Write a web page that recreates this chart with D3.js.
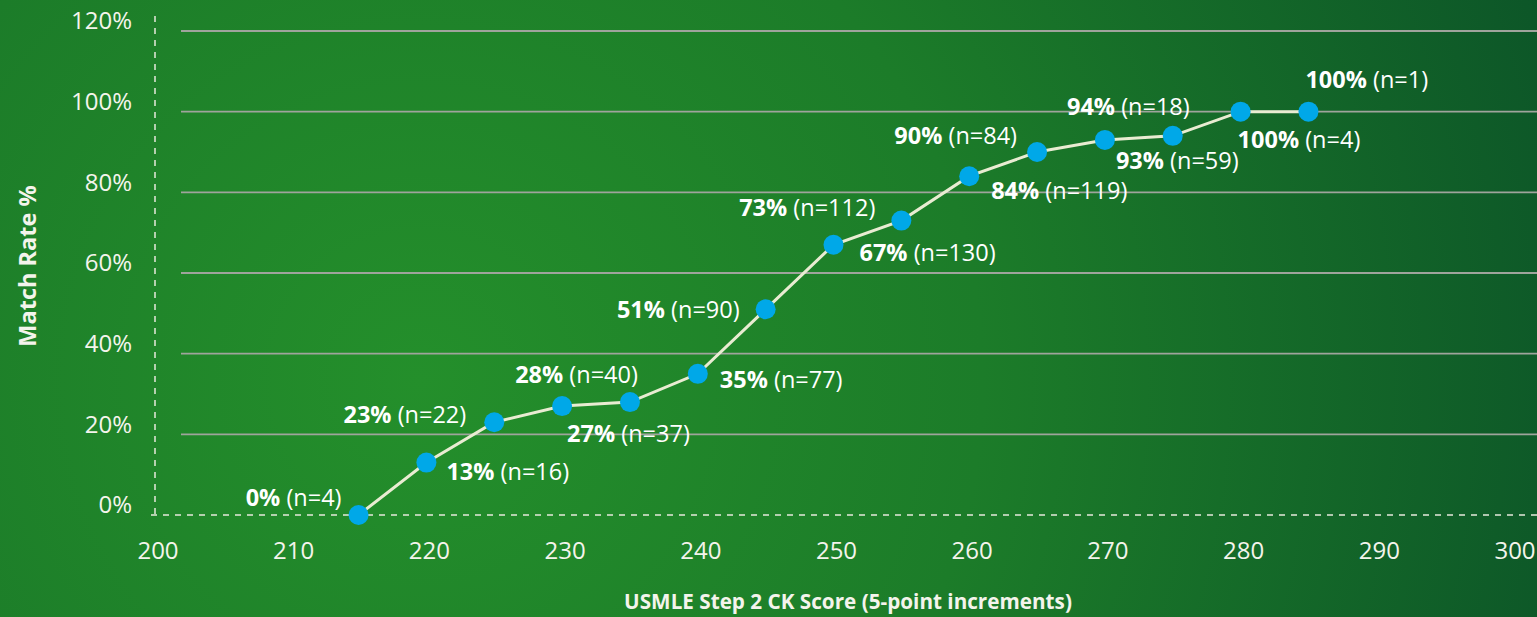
<!DOCTYPE html>
<html>
<head>
    <meta charset="utf-8">
    <title>Match Rate by USMLE Step 2 CK Score</title>
    <script src="https://d3js.org/d3.v7.min.js"></script>
    <style>
        html, body {
            margin: 0;
            padding: 0;
            overflow: hidden;
        }
        body {
            font-family: "Open Sans", Lato, sans-serif;
        }
        .tick-label {
            fill: #f4f4ec;
            font-size: 24px;
        }
        .axis-title {
            fill: #f4f4ec;
            font-size: 20.7px;
            font-weight: 700;
        }
        .y-title {
            font-size: 23.5px;
        }
        .point-label {
            fill: #ffffff;
            font-size: 23.5px;
        }
        .point-label .pct {
            font-weight: 700;
        }
    </style>
</head>
<body>
    <div id="chart"></div>

    <script>
        const width = 1537, height = 617;

        // data
        const scores = [215, 220, 225, 230, 235, 240, 245, 250, 255, 260, 265, 270, 275, 280, 285];
        const matchRates = [0, 13, 23, 27, 28, 35, 51, 67, 73, 84, 90, 93, 94, 100, 100];
        const counts = [4, 16, 22, 37, 40, 77, 90, 130, 112, 119, 84, 59, 18, 4, 1];

        const xTicks = [200, 210, 220, 230, 240, 250, 260, 270, 280, 290, 300];
        const yTicks = [0, 20, 40, 60, 80, 100, 120];

        // where each label sits relative to its point: [dx, dy, anchor]
        const labelPlacement = [
            [-17, -17, "end"], [20, 9, "start"], [-28, -7, "end"], [5, 28, "start"],
            [8, -27, "end"], [22, 6, "start"], [-26, 0, "end"], [26, 8, "start"],
            [-26, -13, "end"], [22, 15, "start"], [-20, -16, "end"], [11, 21, "start"],
            [17, -29, "end"], [-3, 28, "start"], [-3, -32, "start"]
        ];

        const data = scores.map((s, i) => ({
            score: s,
            rate: matchRates[i],
            n: counts[i],
            place: labelPlacement[i]
        }));

        const x = d3.scaleLinear().domain([200, 300]).range([155, 1512]);
        const y = d3.scaleLinear().domain([0, 120]).range([515, 31]);

        const svg = d3.select("#chart").append("svg")
            .attr("width", width)
            .attr("height", height);

        // background
        const defs = svg.append("defs");
        const grad = defs.append("radialGradient")
            .attr("id", "bg")
            .attr("gradientUnits", "userSpaceOnUse")
            .attr("cx", 420).attr("cy", 380).attr("r", 1250);
        grad.append("stop").attr("offset", "0").attr("stop-color", "#248f2b");
        grad.append("stop").attr("offset", "0.45").attr("stop-color", "#1c7c29");
        grad.append("stop").attr("offset", "1").attr("stop-color", "#0b5228");

        svg.append("rect")
            .attr("width", width)
            .attr("height", height)
            .attr("fill", "url(#bg)");

        // grid lines
        svg.append("g").selectAll("line")
            .data(yTicks.filter(t => t > 0))
            .enter().append("line")
            .attr("x1", 181)
            .attr("x2", width)
            .attr("y1", d => y(d))
            .attr("y2", d => y(d))
            .attr("stroke", "#9fa49c")
            .attr("stroke-width", 1.8);

        // dashed axes
        svg.append("line")
            .attr("x1", x(200)).attr("x2", x(200))
            .attr("y1", 16).attr("y2", y(0))
            .attr("stroke", "#e6e9dc")
            .attr("stroke-width", 1.5)
            .attr("stroke-dasharray", "6,6");

        svg.append("line")
            .attr("x1", 151).attr("x2", width)
            .attr("y1", y(0)).attr("y2", y(0))
            .attr("stroke", "#e6e9dc")
            .attr("stroke-width", 1.5)
            .attr("stroke-dasharray", "6,6");

        // tick labels
        svg.append("g").selectAll("text")
            .data(yTicks)
            .enter().append("text")
            .attr("class", "tick-label")
            .attr("x", 132)
            .attr("y", d => y(d) - 10)
            .attr("dy", "0.35em")
            .attr("text-anchor", "end")
            .text(d => d + "%");

        svg.append("g").selectAll("text")
            .data(xTicks)
            .enter().append("text")
            .attr("class", "tick-label")
            .attr("x", d => x(d) + 3)
            .attr("y", 551)
            .attr("dy", "0.35em")
            .attr("text-anchor", "middle")
            .text(d => d);

        // axis titles
        svg.append("text")
            .attr("class", "axis-title y-title")
            .attr("transform", "translate(28,266) rotate(-90)")
            .attr("dy", "0.35em")
            .attr("text-anchor", "middle")
            .text("Match Rate %");

        svg.append("text")
            .attr("class", "axis-title")
            .attr("x", 848)
            .attr("y", 602)
            .attr("dy", "0.35em")
            .attr("text-anchor", "middle")
            .text("USMLE Step 2 CK Score (5-point increments)");

        // line
        const line = d3.line()
            .x(d => x(d.score))
            .y(d => y(d.rate));

        svg.append("path")
            .datum(data)
            .attr("d", line)
            .attr("fill", "none")
            .attr("stroke", "#e9ecd2")
            .attr("stroke-width", 3);

        // points
        svg.append("g").selectAll("circle")
            .data(data)
            .enter().append("circle")
            .attr("cx", d => x(d.score))
            .attr("cy", d => y(d.rate))
            .attr("r", 10)
            .attr("fill", "#00a8e8");

        // point labels
        const labels = svg.append("g").selectAll("text")
            .data(data)
            .enter().append("text")
            .attr("class", "point-label")
            .attr("x", d => x(d.score) + d.place[0])
            .attr("y", d => y(d.rate) + d.place[1])
            .attr("dy", "0.35em")
            .attr("text-anchor", d => d.place[2]);

        labels.append("tspan")
            .attr("class", "pct")
            .text(d => d.rate + "%");

        labels.append("tspan")
            .text(d => " (n=" + d.n + ")");
    </script>
</body>
</html>
